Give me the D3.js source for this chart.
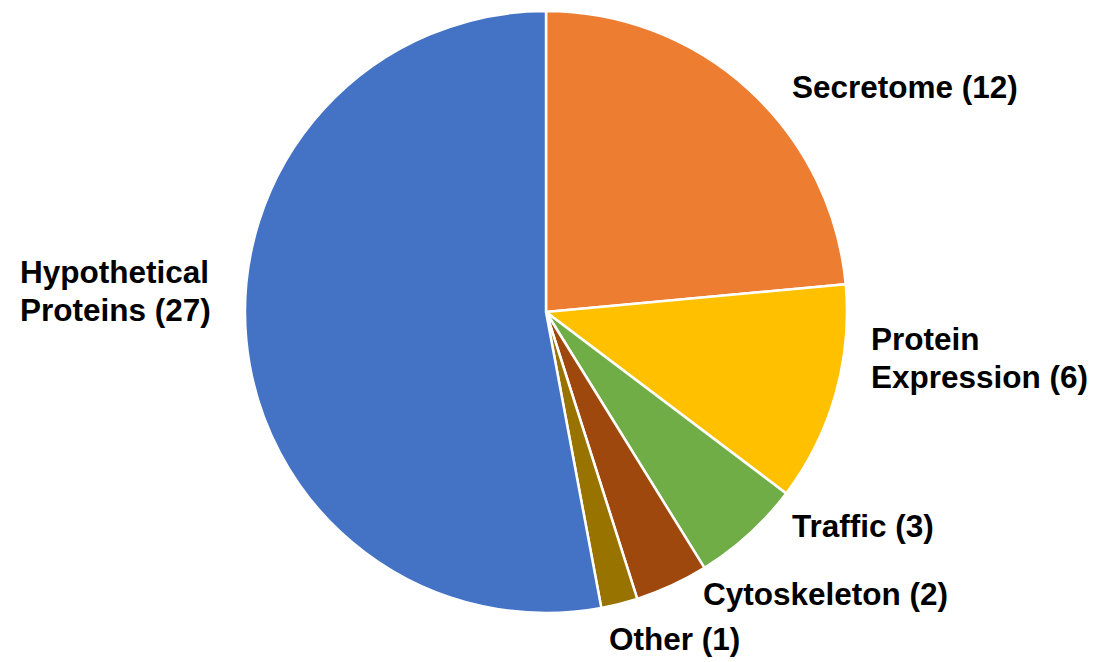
<!DOCTYPE html>
<html>
<head>
<meta charset="utf-8">
<script src="https://cdn.jsdelivr.net/npm/d3@7"></script>
<style>
  body { margin: 0; background: #fff; }
  text { font-family: "Liberation Sans", Arial, sans-serif; font-weight: bold; fill: #000; }
</style>
</head>
<body>
<div id="chart"></div>
<script>
const categories = ['Secretome', 'Protein Expression', 'Traffic', 'Cytoskeleton', 'Other', 'Hypothetical Proteins']
const counts = [12, 6, 3, 2, 1, 27]
const labelLines = [
    ['Secretome (12)'],
    ['Protein', 'Expression (6)'],
    ['Traffic (3)'],
    ['Cytoskeleton (2)'],
    ['Other (1)'],
    ['Hypothetical', 'Proteins (27)']
]
const colors = ['#ED7D31', '#FFC000', '#70AD47', '#9E480E', '#997300', '#4472C4']

const width = 1093
const height = 662
const cx = 546
const cy = 312
const radius = 301
const fontSize = 31.5
const lineHeight = 37.5

// label placement relative to pie centre (best-fit style, outside the pie)
const labelPos = [
    {dx: 246, dy: -214},
    {dx: 325, dy: 38},
    {dx: 246, dy: 225},
    {dx: 157, dy: 293},
    {dx: 63, dy: 338},
    {dx: -526, dy: -29}
]

const data = categories.map((c, i) => ({name: c, value: counts[i], lines: labelLines[i], color: colors[i], pos: labelPos[i]}))

const svg = d3.select('#chart').append('svg')
    .attr('width', width)
    .attr('height', height)

const g = svg.append('g').attr('transform', `translate(${cx},${cy})`)

const pie = d3.pie().value(d => d.value).sort(null)
const arc = d3.arc().innerRadius(0).outerRadius(radius)

g.selectAll('path.slice')
    .data(pie(data))
    .join('path')
    .attr('class', 'slice')
    .attr('d', arc)
    .attr('fill', d => d.data.color)
    .attr('stroke', '#fff')
    .attr('stroke-width', 2.5)
    .attr('stroke-linejoin', 'round')

const labels = g.selectAll('text.label')
    .data(data)
    .join('text')
    .attr('class', 'label')
    .attr('font-size', fontSize)
    .attr('x', d => d.pos.dx)
    .attr('y', d => d.pos.dy)

labels.selectAll('tspan')
    .data(d => d.lines.map((l, i) => ({l, i, x: d.pos.dx})))
    .join('tspan')
    .attr('x', d => d.x)
    .attr('dy', d => d.i === 0 ? 0 : lineHeight)
    .text(d => d.l)
</script>
</body>
</html>
